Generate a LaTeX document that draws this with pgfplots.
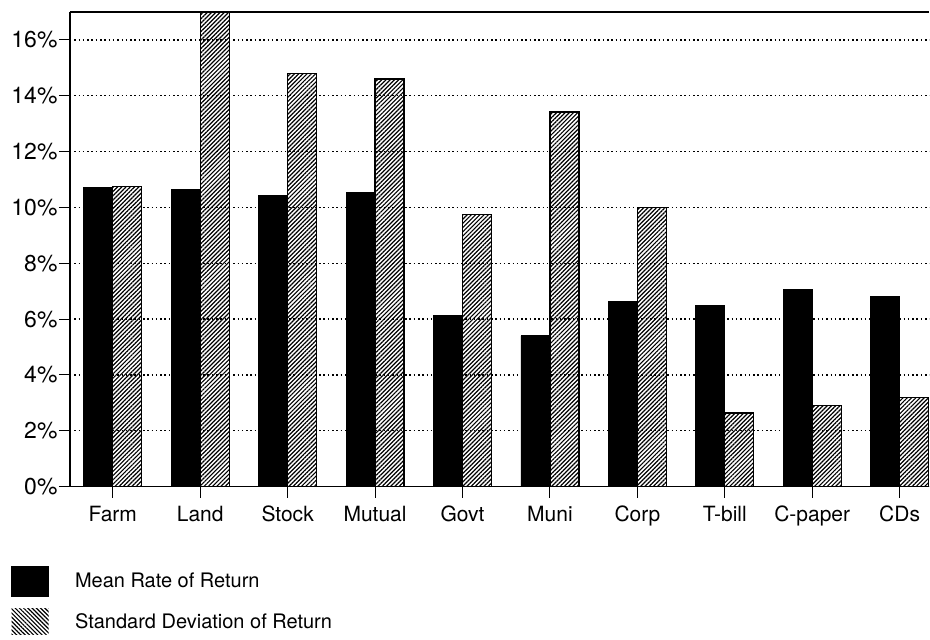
\documentclass[border=0pt]{standalone}
\usepackage{fontspec}
\setmainfont{TeX Gyre Heros}
\usepackage{pgfplots}
\pgfplotsset{compat=1.18}
\usetikzlibrary{patterns.meta}
\begin{document}
\begin{tikzpicture}[font=\fontsize{21}{25}\selectfont]
\begin{axis}[
  scale only axis, width=860pt, height=475pt,
  xmin=-0.49, xmax=9.34, ymin=0, ymax=17,
  axis x line*=bottom, axis y line*=left,
  axis line style={line width=1.2pt, -},
  clip=false,
  ybar=0pt, bar width=29pt,
  xtick={0,...,9},
  xticklabels={Farm,Land,Stock,Mutual,Govt,Muni,Corp,T-bill,C-paper,CDs},
  ytick={0,2,...,16},
  yticklabel={\pgfmathprintnumber{\tick}\%},
  /pgf/number format/assume math mode=true,
  tick align=outside, major tick length=11pt,
  tick style={line width=1pt, black},
  ymajorgrids, grid style={dash pattern=on 1.5pt off 2.8pt, line width=1.3pt, black},
  xticklabel style={yshift=-5pt},
  yticklabel style={xshift=2pt, font=\fontsize{23}{27}\selectfont},
  legend style={at={(rel axis cs:-0.072,-0.162)}, anchor=north west, draw=none, fill=none,
    row sep=12pt, font=\fontsize{20}{24}\selectfont,
    /tikz/every odd column/.append style={column sep=24pt}},
  legend cell align=left,
]
\addplot[fill=black, draw=black, line width=0.8pt,
  legend image code/.code={\fill[black] (0pt,-15pt) rectangle (37pt,15pt);}]
  coordinates {(0,10.72) (1,10.63) (2,10.42) (3,10.54) (4,6.12) (5,5.40) (6,6.64) (7,6.48) (8,7.05) (9,6.80)};
\addlegendentry{Mean Rate of Return}
\addplot[draw=black, line width=1.3pt, pattern={Lines[angle=45,distance=3pt,line width=1.2pt]},
  legend image code/.code={\fill[draw=none, pattern={Lines[angle=-45,distance=3pt,line width=1.2pt]}] (0pt,-13pt) rectangle (37pt,13pt);}]
  coordinates {(0,10.75) (1,17.0) (2,14.8) (3,14.6) (4,9.76) (5,13.42) (6,10.0) (7,2.64) (8,2.9) (9,3.2)};
\addlegendentry{Standard Deviation of Return}
\draw[line width=1.2pt] (rel axis cs:0,1) -- (rel axis cs:1,1);
\path (rel axis cs:-0.0814,-0.322) rectangle (rel axis cs:1,1.0253);
\end{axis}
\end{tikzpicture}
\end{document}
